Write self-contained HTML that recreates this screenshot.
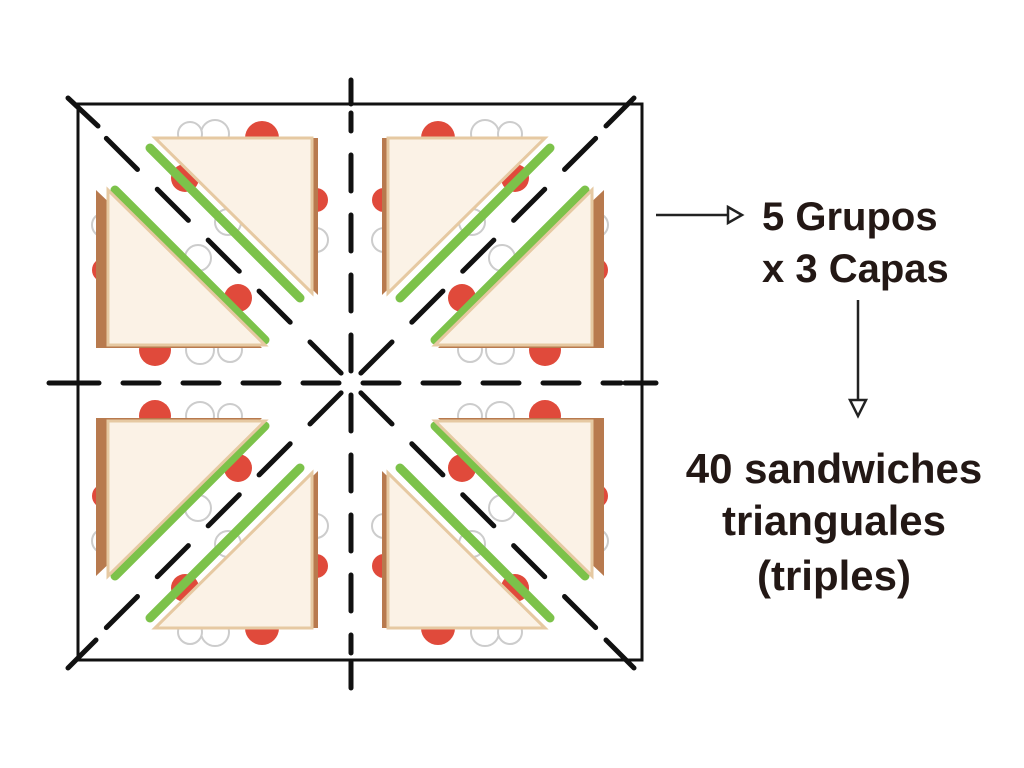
<!DOCTYPE html>
<html><head><meta charset="utf-8"><style>
html,body{margin:0;padding:0;background:#fff}
svg{display:block}
text{font-family:"Liberation Sans",sans-serif;font-weight:bold;fill:#231815}
</style></head><body>
<svg width="1024" height="768" viewBox="0 0 1024 768" xmlns="http://www.w3.org/2000/svg">
<defs>
<g id="q">
  <circle cx="262" cy="138" r="17" fill="#e04a3b"/>
  <circle cx="215" cy="134" r="14" fill="#fff" stroke="#ccc" stroke-width="2"/>
  <circle cx="190" cy="134" r="12" fill="#fff" stroke="#ccc" stroke-width="2"/>
  <circle cx="316" cy="200" r="12" fill="#e04a3b"/>
  <circle cx="316" cy="240" r="12" fill="#fff" stroke="#ccc" stroke-width="2"/>
  <circle cx="185" cy="178" r="14" fill="#e04a3b"/>
  <circle cx="228" cy="222" r="13" fill="#fff" stroke="#ccc" stroke-width="2"/>
  <polyline points="150,148 300,298" stroke="#7cc24a" stroke-width="9" fill="none" stroke-linecap="round"/>
  <polygon points="158,138 318,138 318,295" fill="#b87a4e"/>
  <polygon points="155,138 312,138 312,293" fill="#fbf2e6" stroke="#e6c9a2" stroke-width="3"/>
  <circle cx="155" cy="350" r="16" fill="#e04a3b"/>
  <circle cx="200" cy="350" r="14" fill="#fff" stroke="#ccc" stroke-width="2"/>
  <circle cx="230" cy="350" r="12" fill="#fff" stroke="#ccc" stroke-width="2"/>
  <circle cx="104" cy="270" r="12" fill="#e04a3b"/>
  <circle cx="104" cy="225" r="12" fill="#fff" stroke="#ccc" stroke-width="2"/>
  <circle cx="238" cy="298" r="14" fill="#e04a3b"/>
  <circle cx="198" cy="258" r="13" fill="#fff" stroke="#ccc" stroke-width="2"/>
  <polyline points="115,190 265,340" stroke="#7cc24a" stroke-width="9" fill="none" stroke-linecap="round"/>
  <polygon points="96,190 96,348 262,348" fill="#b87a4e"/>
  <polygon points="108,190 108,345 265,345" fill="#fbf2e6" stroke="#e6c9a2" stroke-width="3"/>
</g>
<g id="arm">
  <line x1="0" y1="-12" x2="0" y2="-270" stroke="#111" stroke-width="5" stroke-dasharray="36 24" stroke-linecap="round"/>
</g>
<g id="darm">
  <line x1="0" y1="-14" x2="0" y2="-360" stroke="#111" stroke-width="5" stroke-dasharray="44 28" stroke-linecap="round"/>
</g>
</defs>

<rect x="78" y="104" width="564" height="556" fill="none" stroke="#111" stroke-width="3"/>
<g transform="translate(351,383)">
  <use href="#arm"/>
  <use href="#arm" transform="rotate(90)"/>
  <use href="#arm" transform="rotate(180)"/>
  <use href="#arm" transform="rotate(270)"/>
  <use href="#darm" transform="rotate(-45)"/>
  <use href="#darm" transform="rotate(45)"/>
  <use href="#darm" transform="rotate(135)"/>
  <use href="#darm" transform="rotate(225)"/>
</g>
<g stroke="#111" stroke-width="5" stroke-linecap="round">
  <line x1="351" y1="80" x2="351" y2="104"/>
  <line x1="351" y1="662" x2="351" y2="688"/>
  <line x1="49" y1="383" x2="80" y2="383"/>
  <line x1="625" y1="383" x2="656" y2="383"/>
  <line x1="68" y1="98" x2="98" y2="126"/>
  <line x1="634" y1="98" x2="606" y2="126"/>
  <line x1="68" y1="668" x2="96" y2="640"/>
  <line x1="634" y1="668" x2="606" y2="640"/>
</g>

<use href="#q"/>
<use href="#q" transform="translate(700,0) scale(-1,1)"/>
<use href="#q" transform="translate(0,766) scale(1,-1)"/>
<use href="#q" transform="translate(700,766) scale(-1,-1)"/>

<g stroke="#222" stroke-width="2.5" fill="none">
  <line x1="656" y1="215" x2="735" y2="215"/>
  <polygon points="728,207 742,215 728,223" fill="#fff"/>
  <line x1="858" y1="300" x2="858" y2="405"/>
  <polygon points="850,400 866,400 858,416" fill="#fff"/>
</g>

<text x="762" y="230" font-size="40">5 Grupos</text>
<text x="762" y="282" font-size="40">x 3 Capas</text>
<text x="834" y="483" font-size="42" text-anchor="middle">40 sandwiches</text>
<text x="834" y="535" font-size="42" text-anchor="middle">trianguales</text>
<text x="834" y="590" font-size="42" text-anchor="middle">(triples)</text>
</svg>
</body></html>
